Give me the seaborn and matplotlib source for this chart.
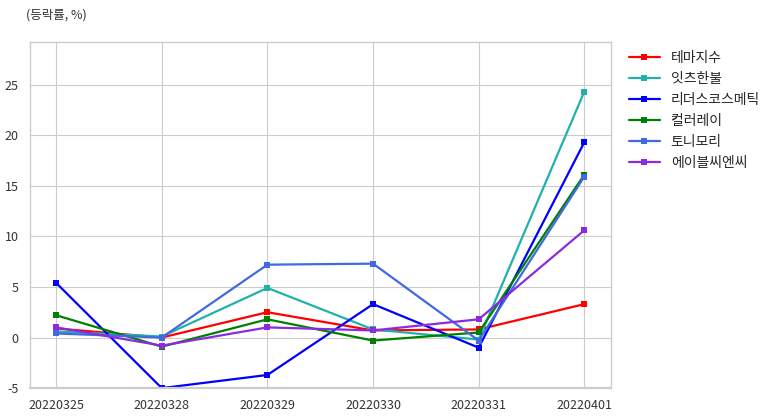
import matplotlib.pyplot as plt
import pandas as pd
import seaborn as sns

# ── Data ──────────────────────────────────────────────────────────────────────
dates = ["20220325", "20220328", "20220329", "20220330", "20220331", "20220401"]
names = ["테마지수", "잇츠한불", "리더스코스메틱", "컬러레이", "토니모리", "에이블씨엔씨"]
theme_idx = [0.9, 0.0, 2.5, 0.7, 0.8, 3.3]
itsh = [0.6, 0.1, 4.9, 0.8, -0.2, 24.3]
leaders = [5.4, -5.0, -3.7, 3.3, -1.0, 19.3]
colorray = [2.2, -0.9, 1.8, -0.3, 0.5, 16.1]
tonymoly = [0.4, 0.0, 7.2, 7.3, -0.3, 15.9]
able = [1.0, -0.8, 1.0, 0.7, 1.8, 10.6]
series = [theme_idx, itsh, leaders, colorray, tonymoly, able]
colors = ["#ff0000", "#20b2aa", "#0000ff", "#008000", "#4169e1", "#8a2be2"]

rows = []
for name, vals in zip(names, series):
    for i, v in enumerate(vals):
        rows.append({"pos": i, "name": name, "rate": v})
df = pd.DataFrame(rows)

# ── Plot ──────────────────────────────────────────────────────────────────────
sns.set_theme(style="whitegrid")
plt.rcParams["font.family"] = ["Noto Sans CJK KR", "DejaVu Sans"]
plt.rcParams["axes.unicode_minus"] = False

fig = plt.figure(figsize=(7.82, 4.16), dpi=100)
ax = fig.add_axes([0.038, 0.067, 0.743, 0.832])

sns.lineplot(data=df, x="pos", y="rate", hue="name", hue_order=names,
             palette=colors, marker="s", markersize=5, markeredgewidth=0,
             linewidth=1.6, ax=ax)

ax.set_xlim(-0.25, 5.25)
ax.set_ylim(-5, 29.2)
ax.set_xticks(range(len(dates)))
ax.set_xticklabels(dates)
ax.set_yticks([-5, 0, 5, 10, 15, 20, 25])
ax.set_xlabel("")
ax.set_ylabel("")
ax.tick_params(axis="both", labelsize=9, colors="#333333", pad=2)
ax.grid(color="#cccccc", linewidth=0.8)
for s in ax.spines.values():
    s.set_color("#cccccc")
    s.set_linewidth(1.0)
ax.spines["bottom"].set_linewidth(1.6)

fig.text(0.033, 0.955, "(등락률, %)", fontsize=9, color="#333333")

ax.legend(loc="upper left", bbox_to_anchor=(1.01, 1.01), frameon=False,
          fontsize=10, handlelength=2.2, labelspacing=0.5)

plt.savefig("out.png", dpi=100)
plt.close()
